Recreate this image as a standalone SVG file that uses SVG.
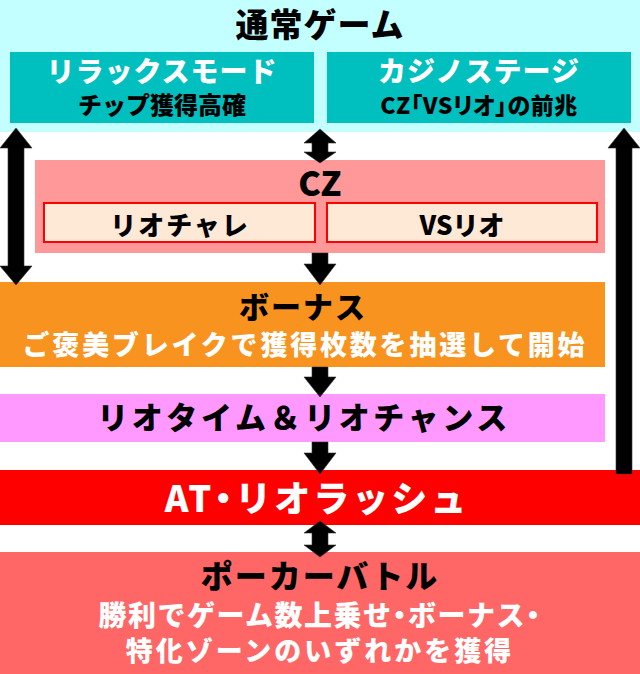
<svg xmlns="http://www.w3.org/2000/svg" width="640" height="674" viewBox="0 0 640 674">
<style>
text{font-family:"Noto Sans CJK JP","Noto Sans",sans-serif;font-weight:900;text-anchor:middle}
.b{fill:#000}
.w{fill:#fff}
.p{font-feature-settings:"palt"}
.arr{fill:#000;stroke:#333;stroke-width:0.6}
.inner{fill:#fde9d6;stroke:#ff0000;stroke-width:2}
</style>
<rect width="640" height="674" fill="#fff"/>
<g id="normal">
<rect x="0" y="0" width="640" height="132" fill="#c4ffff"/>
<text class="b" x="320" y="37" font-size="33" letter-spacing="1">通常ゲーム</text>
</g>
<g id="relax">
<rect x="10" y="52" width="304" height="71" fill="#00bfbf"/>
<text class="w" x="162" y="82" font-size="28" letter-spacing="1">リラックスモード</text>
<text class="b" x="162" y="114" font-size="24">チップ獲得高確</text>
</g>
<g id="casino">
<rect x="327" y="52" width="304" height="71" fill="#00bfbf"/>
<text class="w" x="479" y="82" font-size="28" letter-spacing="1">カジノステージ</text>
<text class="b p" x="479" y="114" font-size="23" letter-spacing="0.5">CZ「VSリオ」の前兆</text>
</g>
<g id="cz">
<rect x="35" y="160" width="570" height="93" fill="#ff9999"/>
<text class="b" x="320" y="196" font-size="34">CZ</text>
</g>
<g id="riochare">
<rect class="inner" x="44" y="203" width="271" height="39"/>
<text class="b" x="180" y="235" font-size="26" letter-spacing="2">リオチャレ</text>
</g>
<g id="vsrio">
<rect class="inner" x="327" y="203" width="270" height="39"/>
<text class="b" x="462" y="235" font-size="26">VSリオ</text>
</g>
<g id="bonus">
<rect x="0" y="282" width="605" height="85" fill="#f7931e"/>
<text class="b" x="303" y="318" font-size="30" letter-spacing="2">ボーナス</text>
<text class="w" x="305" y="355" font-size="27" letter-spacing="2.8">ご褒美ブレイクで獲得枚数を抽選して開始</text>
</g>
<g id="riotime">
<rect x="0" y="394" width="605" height="48" fill="#ff99ff"/>
<text class="b" x="304" y="429" font-size="31" letter-spacing="3.6">リオタイム＆リオチャンス</text>
</g>
<g id="at">
<rect x="0" y="470" width="640" height="55" fill="#ff0000"/>
<text class="w" x="317" y="512" font-size="36" letter-spacing="3">AT<tspan class="p">・</tspan>リオラッシュ</text>
</g>
<g id="poker">
<rect x="0" y="552" width="640" height="122" fill="#ff6666"/>
<text class="b" x="320" y="588" font-size="32" letter-spacing="2">ポーカーバトル</text>
<text class="w" x="320" y="626" font-size="28" letter-spacing="1.5">勝利でゲーム数上乗せ<tspan class="p">・</tspan>ボーナス<tspan class="p">・</tspan></text>
<text class="w" x="320" y="661" font-size="27" letter-spacing="3">特化ゾーンのいずれかを獲得</text>
</g>
<g id="connectors">
<polygon class="arr" points="16,128 32,148 24,148 24,266 32,266 16,285 0,266 8,266 8,148 0,148"/>
<polygon class="arr" points="320,129 336,143 328,143 328,152 336,152 320,163 304,152 312,152 312,143 304,143"/>
<polygon class="arr" points="312,253 328,253 328,264 336,264 320,285 304,264 312,264"/>
<polygon class="arr" points="312,367 328,367 328,377 336,377 320,397 304,377 312,377"/>
<polygon class="arr" points="312,442 328,442 328,453 336,453 320,474 304,453 312,453"/>
<polygon class="arr" points="320,521 336,533 328,533 328,545 336,545 320,557 304,545 312,545 312,533 304,533"/>
<polygon class="arr" points="624,128 640,148 632,148 632,474 616,474 616,148 608,148"/>
</g>
</svg>
